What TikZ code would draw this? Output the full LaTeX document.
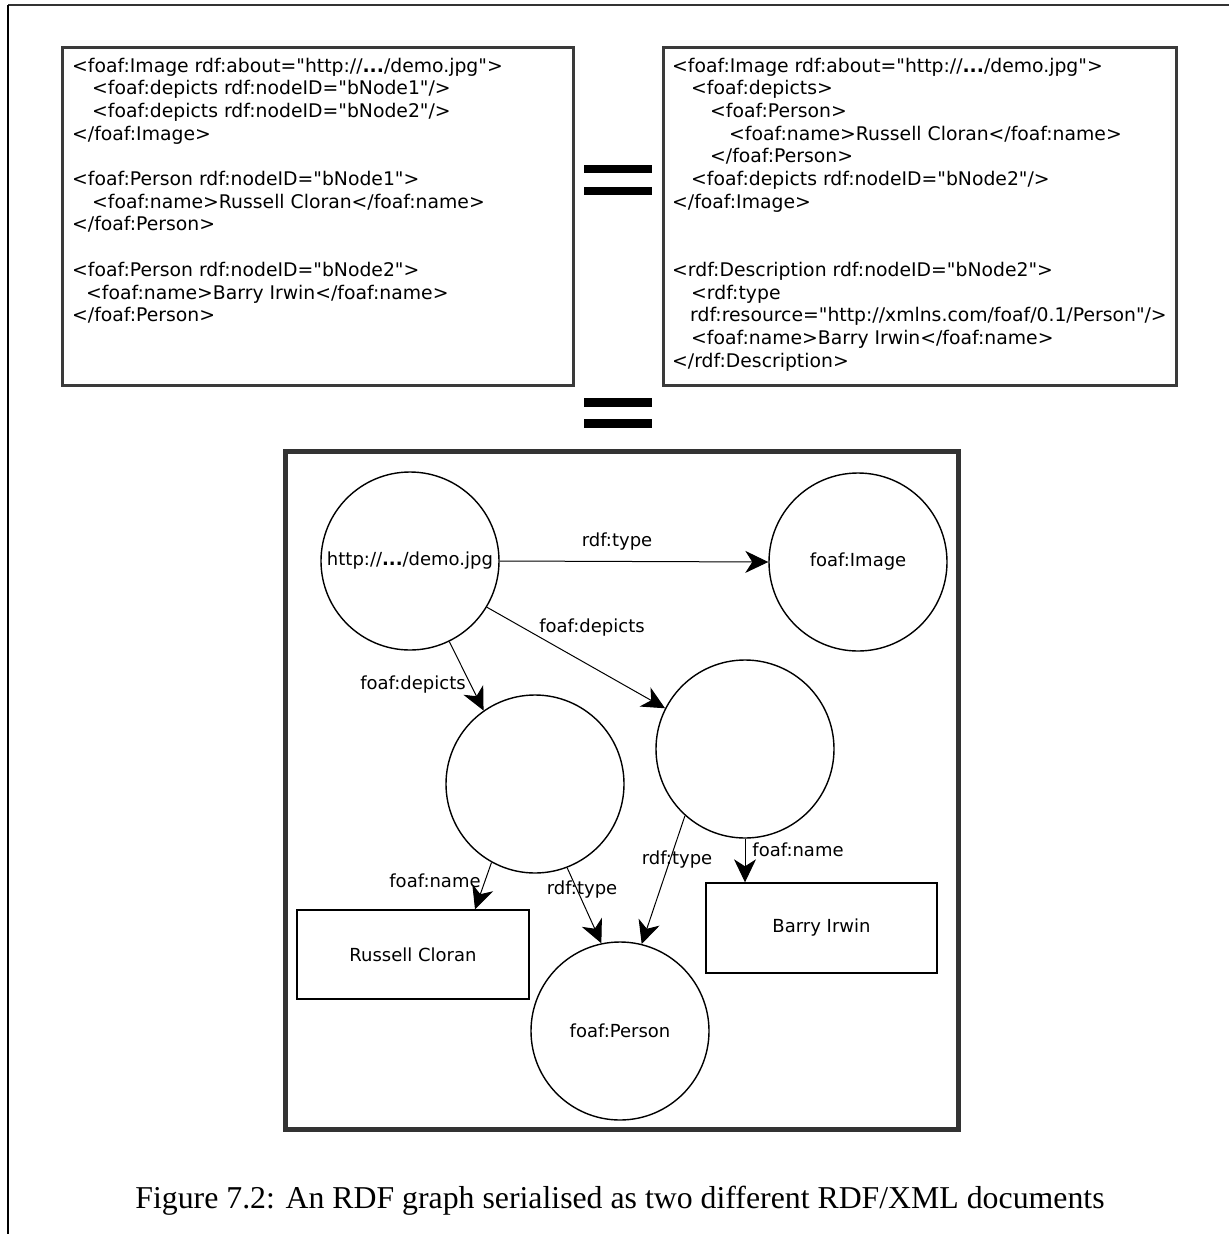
\documentclass[tikz,border=0pt]{standalone}
\usepackage{fontspec}
\setmainfont{Liberation Serif}
\newfontfamily\vera{DejaVu Sans}
\usetikzlibrary{arrows.meta,calc}
\definecolor{boxgray}{HTML}{3A3A3A}
\definecolor{framegray}{HTML}{333333}

\begin{document}
\begin{tikzpicture}[x=1pt,y=-1pt,
  verafont/.style={font=\vera\fontsize{18}{22}\selectfont},
  codefont/.style={font=\vera\fontsize{18.8}{22}\selectfont},
  code/.style={anchor=base west, inner sep=0pt, codefont},
  lbl/.style={inner sep=0pt, verafont},
  res/.style={circle, draw, line width=1.4pt, minimum size=178pt, inner sep=0pt, verafont},
  lit/.style={rectangle, draw, line width=1.4pt, inner sep=0pt, minimum width=232pt, minimum height=89pt, verafont},
  docbox/.style={rectangle, draw=boxgray, line width=3pt, inner sep=0pt},
  rel/.style={line width=1pt, -{Stealth[length=23pt,width=22pt,inset=7pt]}},
  eqbar/.style={fill=black, draw=none}]

\useasboundingbox (0,0) rectangle (1229,1234);
\fill[white] (0,0) rectangle (1229,1234);

% page frame corner
\draw[line width=1.5pt, framegray] (8,5) -- (1229,5);
\draw[line width=2pt] (8,5) -- (8,1234);

% the two RDF/XML documents
\node[docbox, minimum width=511pt, minimum height=338pt] (docA) at (317.5,216) {};
\node[docbox, minimum width=513pt, minimum height=338pt] (docB) at (919.5,216) {};

\node[code] (a1)  at (72,72)    {<foaf:Image rdf:about="http://{\bfseries...}/demo.jpg">};
\node[code] (a2)  at (92,94.7)  {<foaf:depicts rdf:nodeID="bNode1"/>};
\node[code] (a3)  at (92,117.4) {<foaf:depicts rdf:nodeID="bNode2"/>};
\node[code] (a4)  at (72,140.1) {</foaf:Image>};
\node[code] (a6)  at (72,185.5) {<foaf:Person rdf:nodeID="bNode1">};
\node[code] (a7)  at (92,208.2) {<foaf:name>Russell Cloran</foaf:name>};
\node[code] (a8)  at (72,230.9) {</foaf:Person>};
\node[code] (a10) at (72,276.3) {<foaf:Person rdf:nodeID="bNode2">};
\node[code] (a11) at (86,299)   {<foaf:name>Barry Irwin</foaf:name>};
\node[code] (a12) at (72,321.7) {</foaf:Person>};

\node[code] (b1)  at (672,72)    {<foaf:Image rdf:about="http://{\bfseries...}/demo.jpg">};
\node[code] (b2)  at (691,94.7)  {<foaf:depicts>};
\node[code] (b3)  at (710,117.4) {<foaf:Person>};
\node[code] (b4)  at (729,140.1) {<foaf:name>Russell Cloran</foaf:name>};
\node[code] (b5)  at (710,162.8) {</foaf:Person>};
\node[code] (b6)  at (691,185.5) {<foaf:depicts rdf:nodeID="bNode2"/>};
\node[code] (b7)  at (672,208.2) {</foaf:Image>};
\node[code] (b10) at (672,276.3) {<rdf:Description rdf:nodeID="bNode2">};
\node[code] (b11) at (691,299)   {<rdf:type};
\node[code] (b12) at (690,321.7) {rdf:resource="http://xmlns.com/foaf/0.1/Person"/>};
\node[code] (b13) at (691,344.4) {<foaf:name>Barry Irwin</foaf:name>};
\node[code] (b14) at (672,367.1) {</rdf:Description>};

% equals signs
\fill[eqbar] (584,165) rectangle (652,173);
\fill[eqbar] (584,187) rectangle (652,195);
\fill[eqbar] (584,398) rectangle (652,407);
\fill[eqbar] (584,419) rectangle (652,428);

% the graph
\node[rectangle, draw=framegray, line width=5pt, minimum width=673pt, minimum height=678pt, inner sep=0pt] (graph) at (621.5,790) {};

\node[res] (demo)   at (410,561)  {http://{\bfseries...}/demo.jpg};
\node[res] (image)  at (858,562)  {foaf:Image};
\node[res] (blankA) at (535,784)  {};
\node[res] (blankB) at (745,749)  {};
\node[res] (person) at (620,1031) {foaf:Person};
\node[lit] (russell) at (413,954.5) {Russell Cloran};
\node[lit, minimum width=231pt, minimum height=90pt] (barry) at (821.5,928) {Barry Irwin};

\draw[rel] (demo.east) -- (image.west);
\draw[rel] (demo.-31) -- (blankB.153);
\draw[rel] (demo.-64) -- (blankA.125);
\draw[rel] (blankA.-119) -- ([xshift=62pt]russell.north);
\draw[rel] (blankA.-69) -- (person.102);
\draw[rel] (blankB.-132) -- (person.76);
\draw[rel] (blankB.south) -- (blankB.south |- barry.north);

\node[lbl] (l1) at (617,542) {rdf:type};
\node[lbl] (l2) at (592,628) {foaf:depicts};
\node[lbl] (l3) at (413,685) {foaf:depicts};
\node[lbl] (l4) at (435,881) {foaf:name};
\node[lbl] (l5) at (582,890) {rdf:type};
\node[lbl] (l6) at (677,860) {rdf:type};
\node[lbl] (l7) at (798,850) {foaf:name};

% caption
\node[anchor=base, inner sep=0pt, font=\fontsize{31.8}{38}\selectfont] (caption) at (620,1208)
  {Figure 7.2: An RDF graph serialised as two different RDF/XML documents};
\end{tikzpicture}
\end{document}
